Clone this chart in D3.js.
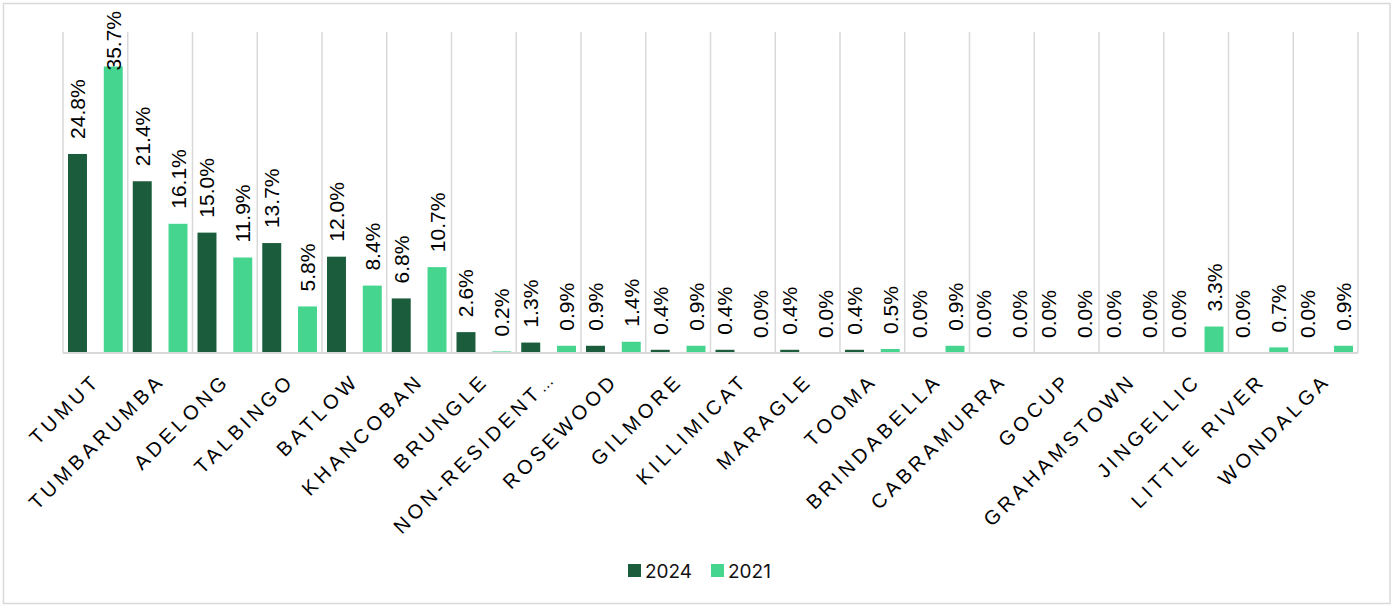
<!DOCTYPE html>
<html>
<head>
<meta charset="utf-8">
<script src="https://cdn.jsdelivr.net/npm/d3@7"></script>
<style>
  html, body { margin: 0; padding: 0; background: #fff; }
  svg { display: block; }
</style>
</head>
<body>
<svg id="chart" width="1394" height="605"></svg>
<script>
// Share of respondents by locality, 2024 vs 2021
const localities = ["TUMUT", "TUMBARUMBA", "ADELONG", "TALBINGO", "BATLOW", "KHANCOBAN",
  "BRUNGLE", "NON-RESIDENT…", "ROSEWOOD", "GILMORE", "KILLIMICAT", "MARAGLE", "TOOMA",
  "BRINDABELLA", "CABRAMURRA", "GOCUP", "GRAHAMSTOWN", "JINGELLIC", "LITTLE RIVER", "WONDALGA"];
const years = ["2024", "2021"];
const values2024 = [24.8, 21.4, 15.0, 13.7, 12.0, 6.8, 2.6, 1.3, 0.9, 0.4, 0.4, 0.4, 0.4, 0.0, 0.0, 0.0, 0.0, 0.0, 0.0, 0.0];
const values2021 = [35.7, 16.1, 11.9, 5.8, 8.4, 10.7, 0.2, 0.9, 1.4, 0.9, 0.0, 0.0, 0.5, 0.9, 0.0, 0.0, 0.0, 3.3, 0.7, 0.9];
const yDomain = [0, 40];
const seriesColors = { "2024": "#1a5c3b", "2021": "#45d58f" };

const svg = d3.select("#chart");
const W = 1394, H = 605;
const plot = { left: 63, right: 1358, top: 32, bottom: 353 };

// outer frame
svg.append("rect")
  .attr("x", 3.5).attr("y", 3.5)
  .attr("width", W - 7.5).attr("height", H - 5)
  .attr("fill", "#fff").attr("stroke", "#d9d9d9").attr("stroke-width", 1.5);

const x0 = d3.scaleBand().domain(localities).range([plot.left, plot.right]).padding(0);
const x1 = d3.scaleBand().domain(years).range([0, x0.bandwidth()])
  .paddingInner(0.47).paddingOuter(0.14);
const y = d3.scaleLinear().domain(yDomain).range([plot.bottom, plot.top]);

const rows = localities.map((name, i) => ({
  name,
  bars: [
    { year: "2024", value: values2024[i] },
    { year: "2021", value: values2021[i] }
  ]
}));

// vertical separators between localities
const bounds = localities.map(d => x0(d)).concat([plot.right]);
svg.append("g").selectAll("line").data(bounds).join("line")
  .attr("x1", d => d).attr("x2", d => d)
  .attr("y1", plot.top).attr("y2", plot.bottom)
  .attr("stroke", "#d9d9d9").attr("stroke-width", 1.5);

// bars
const groups = svg.append("g").selectAll("g").data(rows).join("g")
  .attr("transform", d => `translate(${x0(d.name)},0)`);

groups.selectAll("rect").data(d => d.bars).join("rect")
  .attr("x", d => x1(d.year))
  .attr("width", x1.bandwidth())
  .attr("y", d => y(d.value))
  .attr("height", d => y(0) - y(d.value))
  .attr("fill", d => seriesColors[d.year]);

// baseline
svg.append("line")
  .attr("x1", plot.left).attr("x2", plot.right)
  .attr("y1", plot.bottom).attr("y2", plot.bottom)
  .attr("stroke", "#d9d9d9").attr("stroke-width", 2);

// value labels, rotated, kept inside the frame at the top
const labelGap = 15, labelTopLimit = 11;
groups.selectAll("text.val").data(d => d.bars).join("text")
  .attr("class", "val")
  .attr("font-family", "'Liberation Sans', Arial, sans-serif")
  .attr("font-size", 21)
  .attr("fill", "#000")
  .attr("dominant-baseline", "central")
  .text(d => d.value.toFixed(1) + "%")
  .each(function (d) {
    const len = this.getComputedTextLength();
    let start = y(d.value) - labelGap;
    if (start - len < labelTopLimit) start = labelTopLimit + len;
    const cx = x1(d.year) + x1.bandwidth() / 2;
    d3.select(this).attr("transform", `translate(${cx},${start}) rotate(-90)`);
  });

// category labels, rotated 45 degrees; a trailing ellipsis is set tight
const catLabels = svg.append("g").selectAll("text").data(localities).join("text")
  .attr("font-family", "'Liberation Sans', Arial, sans-serif")
  .attr("font-size", 20)
  .attr("letter-spacing", 4)
  .attr("fill", "#000")
  .attr("text-anchor", "end")
  .attr("transform", d => `translate(${x0(d) + x0.bandwidth() / 2 + 6},${plot.bottom + 29}) rotate(-45)`);
catLabels.each(function (d) {
  const t = d3.select(this);
  if (d.endsWith("…")) {
    t.append("tspan").text(d.slice(0, -1));
    t.append("tspan").attr("letter-spacing", 0).attr("font-size", 16).text("…");
  } else {
    t.text(d);
  }
});

// legend
const legend = svg.append("g").attr("font-family", "Inter, 'Liberation Sans', sans-serif").attr("font-size", 19);
const legendItems = [{ year: "2024", x: 628 }, { year: "2021", x: 711 }];
legendItems.forEach(it => {
  legend.append("rect").attr("x", it.x).attr("y", 564).attr("width", 13).attr("height", 13)
    .attr("fill", seriesColors[it.year]);
  legend.append("text").attr("x", it.x + 17).attr("y", 577.5).attr("fill", "#111").text(it.year);
});
</script>
</body>
</html>
